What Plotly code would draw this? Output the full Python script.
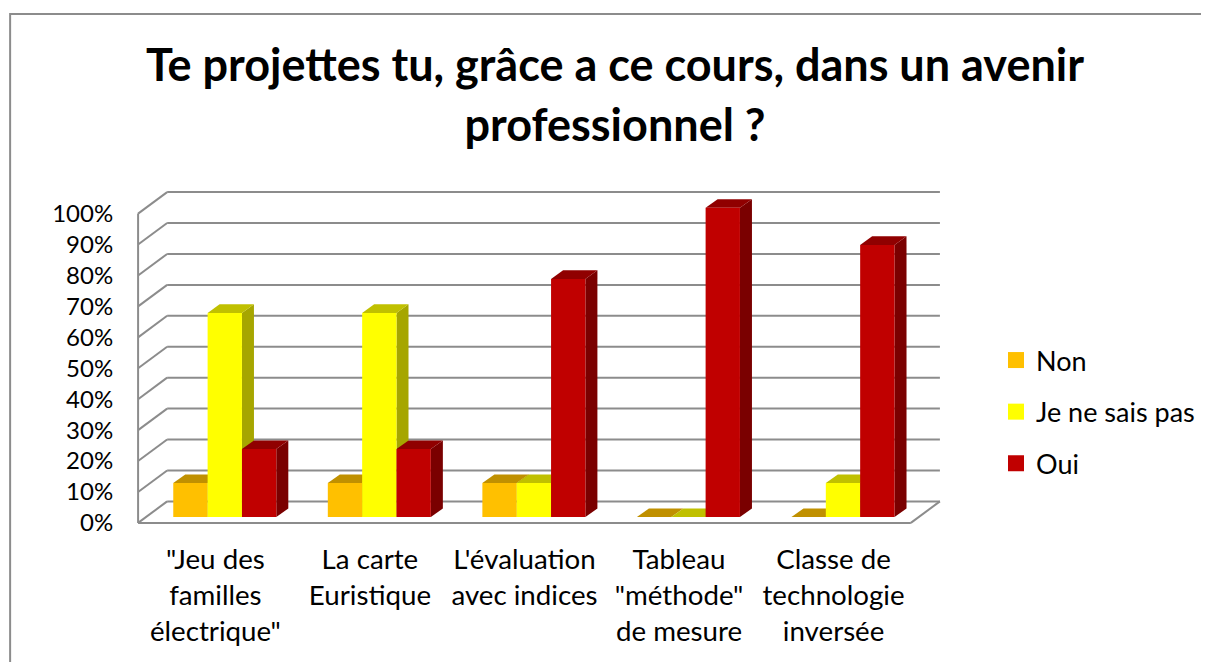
import plotly.graph_objects as go

categories = ['"Jeu des<br>familles<br>électrique"', "La carte<br>Euristique",
              "L'évaluation<br>avec indices", 'Tableau<br>"méthode"<br>de mesure',
              "Classe de<br>technologie<br>inversée"]
non = [11, 11, 11, 0, 0]
je_ne_sais_pas = [66, 66, 11, 0, 11]
oui = [22, 22, 77, 100, 88]
y_ticks = list(range(0, 101, 10))

FONT = "Lato"
GRID = "#8c8c8c"
BAR_W = 2 / 9          # bar width in category units
# depth of the fake 3D box, in axis units
BAR_DX, BAR_DY = 0.0777, 2.8
WALL_DX, WALL_DY = 0.188, 6.96
FRONT_DY = -1.88       # front plane sits a little below the bars
FRONT_DX = -0.0609
PAD_X, PAD_Y = 0.02, 1  # keeps the outer grid lines from being clipped

series = [
    ("Non", non, "#FFC000", "#A67C00", "#C09000"),
    ("Je ne sais pas", je_ne_sais_pas, "#FFFF00", "#A6A600", "#C0C000"),
    ("Oui", oui, "#C00000", "#7A0000", "#900000"),
]
xs = list(range(len(categories)))


def span(text, size):
    # outer font size sets the line spacing, inner one the glyph size
    return "<br>".join(f'<span style="font-size:{size}px">{t}</span>' for t in text.split("<br>"))


def poly(points):
    return "M " + " L ".join(f"{x},{y}" for x, y in points) + " Z"


fig = go.Figure()

# Grid: back wall and left wall
x_left = -0.5 + FRONT_DX
x_right = x_left + len(categories)
for v in y_ticks:
    yf = v + FRONT_DY
    yb = yf + WALL_DY
    fig.add_shape(type="line", x0=x_left + WALL_DX, x1=x_right + WALL_DX, y0=yb, y1=yb,
                  line=dict(color=GRID, width=2), layer="below")
    fig.add_shape(type="line", x0=x_left, x1=x_left + WALL_DX, y0=yf, y1=yb,
                  line=dict(color=GRID, width=2), layer="below")

# Floor edges
fig.add_shape(type="line", x0=x_left, x1=x_left, y0=FRONT_DY, y1=100 + FRONT_DY,
              line=dict(color=GRID, width=2), layer="below")
fig.add_shape(type="line", x0=x_left, x1=x_right, y0=FRONT_DY, y1=FRONT_DY,
              line=dict(color=GRID, width=2), layer="below")
fig.add_shape(type="line", x0=x_right, x1=x_right + WALL_DX, y0=FRONT_DY, y1=FRONT_DY + WALL_DY,
              line=dict(color=GRID, width=2), layer="below")

# Side and top faces of the bars, under the front faces
for s, (name, values, front, side, top) in enumerate(series):
    for i, v in zip(xs, values):
        xl = i + (s - 1.5) * BAR_W
        xr = xl + BAR_W
        if v > 0:
            fig.add_shape(type="path", layer="below", fillcolor=side, line_width=0,
                          path=poly([(xr, 0), (xr + BAR_DX, BAR_DY), (xr + BAR_DX, v + BAR_DY), (xr, v)]))
        fig.add_shape(type="path", layer="below", fillcolor=top, line_width=0,
                      path=poly([(xl, v), (xl + BAR_DX, v + BAR_DY), (xr + BAR_DX, v + BAR_DY), (xr, v)]))

# Front faces
for name, values, front, side, top in series:
    fig.add_trace(go.Bar(x=xs, y=values, name=name, marker=dict(color=front, line_width=0),
                         showlegend=False, legendgroup=name))

# Legend entries with larger swatches
for name, values, front, side, top in series:
    fig.add_trace(go.Scatter(x=[None], y=[None], mode="markers", name=name, legendgroup=name,
                             marker=dict(symbol="square", size=16, color=front)))

fig.update_layout(
    width=1220, height=662,   # page body adds its own 8px margin
    margin=dict(l=126.91, r=284.91, t=180.91, b=144.41, autoexpand=False),
    barmode="group", bargap=1 / 3, bargroupgap=0,
    plot_bgcolor="white", paper_bgcolor="white",
    font=dict(family=FONT, color="black", size=24),
    title=dict(
        text=span("Te projettes tu, grâce a ce cours, dans un avenir<br>professionnel ?", 45),
        font=dict(family=FONT, size=46, weight=700, color="black"),
        x=607 / 1220, xanchor="center", y=1 - 73 / 662, yanchor="top",
    ),
    legend=dict(xref="container", yref="container", x=988 / 1220, xanchor="left", y=1 - 328 / 662, yanchor="top",
                tracegroupgap=13.5, font=dict(family=FONT, size=27), bgcolor="rgba(0,0,0,0)"),
    xaxis=dict(range=[x_left - PAD_X, x_right + WALL_DX + PAD_X], showgrid=False, zeroline=False, showline=False,
               tickmode="array", tickvals=[i + FRONT_DX for i in xs],
               ticktext=categories,
               tickfont=dict(family=FONT, size=27.7), tickangle=0,
               ticks="outside", ticklen=8.5, tickcolor="rgba(0,0,0,0)"),
    yaxis=dict(range=[FRONT_DY - PAD_Y, 100 + FRONT_DY + WALL_DY + PAD_Y], showgrid=False, zeroline=False, showline=False,
               tickmode="array", tickvals=[v + FRONT_DY for v in y_ticks],
               ticktext=[f"{v}%" for v in y_ticks],
               tickfont=dict(family=FONT, size=24),
               ticks="outside", ticklen=16, tickcolor="rgba(0,0,0,0)"),
)

# Chart frame, cut off by the right and bottom edges of the picture
fig.add_shape(type="rect", xref="paper", yref="paper", layer="below",
              x0=-124.91 / 808.18, x1=1.5, y0=-0.5, y1=1 + 174.91 / 336.68,
              line=dict(color=GRID, width=2))

fig.write_html("out.html")
